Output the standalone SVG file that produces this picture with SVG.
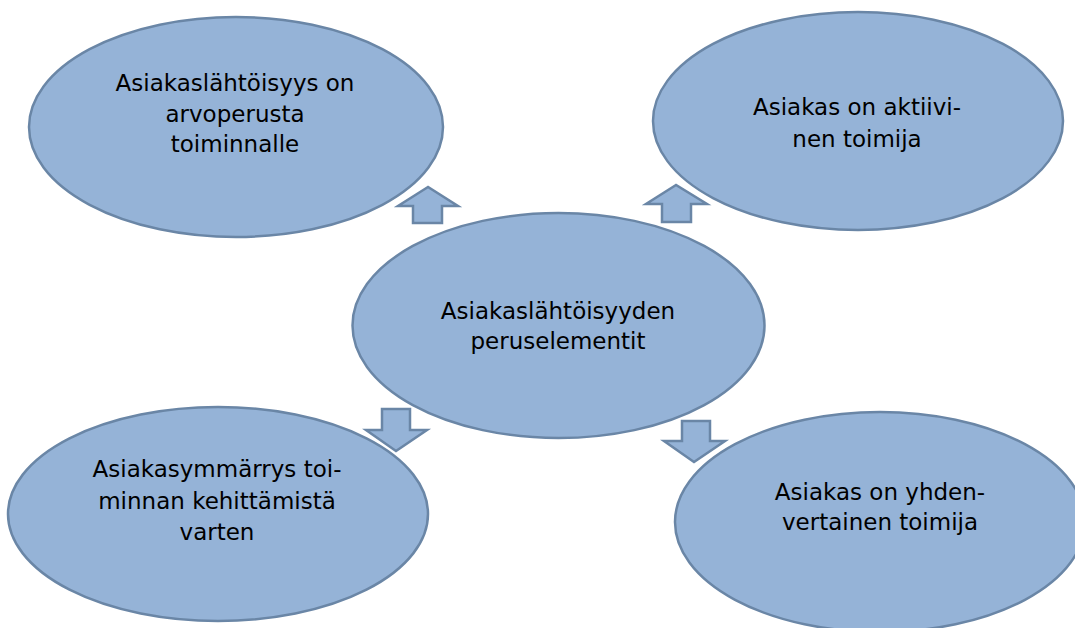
<svg xmlns="http://www.w3.org/2000/svg" width="1075" height="628" viewBox="0 0 1075 628">
<style>
.n{fill:#95b3d7;stroke:#6a86a6;stroke-width:2.5}
.a{fill:#95b3d7;stroke:#6a86a6;stroke-width:2.5;stroke-linejoin:miter}
text{font-family:"DejaVu Sans",Tahoma,sans-serif;font-size:23px;fill:#000;text-anchor:middle}
</style>
<rect width="1075" height="628" fill="#fff"/>
<g id="n1">
<ellipse class="n" cx="236" cy="127" rx="207" ry="110"/>
<text x="235" y="91">Asiakaslähtöisyys on</text>
<text x="235" y="122">arvoperusta</text>
<text x="235" y="152">toiminnalle</text>
</g>
<g id="n2">
<ellipse class="n" cx="858" cy="121" rx="205" ry="109"/>
<text x="857" y="115">Asiakas on aktiivi-</text>
<text x="857" y="147">nen toimija</text>
</g>
<g id="n3">
<ellipse class="n" cx="218" cy="514" rx="210" ry="107"/>
<text x="217" y="477">Asiakasymmärrys toi-</text>
<text x="217" y="509">minnan kehittämistä</text>
<text x="217" y="540">varten</text>
</g>
<g id="n4">
<ellipse class="n" cx="880" cy="522" rx="205" ry="110"/>
<text x="880" y="500">Asiakas on yhden-</text>
<text x="880" y="530">vertainen toimija</text>
</g>
<g id="center">
<ellipse class="n" cx="558.5" cy="325.5" rx="206" ry="112.5"/>
<text x="558" y="319">Asiakaslähtöisyyden</text>
<text x="558" y="349">peruselementit</text>
</g>
<g id="connectors">
<polygon class="a" points="428,187 398,206 413,206 413,223 442,223 442,206 458,206"/>
<polygon class="a" points="676,185 646,204 662,204 662,222 691,222 691,204 707,204"/>
<polygon class="a" points="382,409 410,409 410,430 427,430 396,451 366,430 382,430"/>
<polygon class="a" points="682,421 710,421 710,441 725,441 694,462 664,441 682,441"/>
</g>
</svg>
